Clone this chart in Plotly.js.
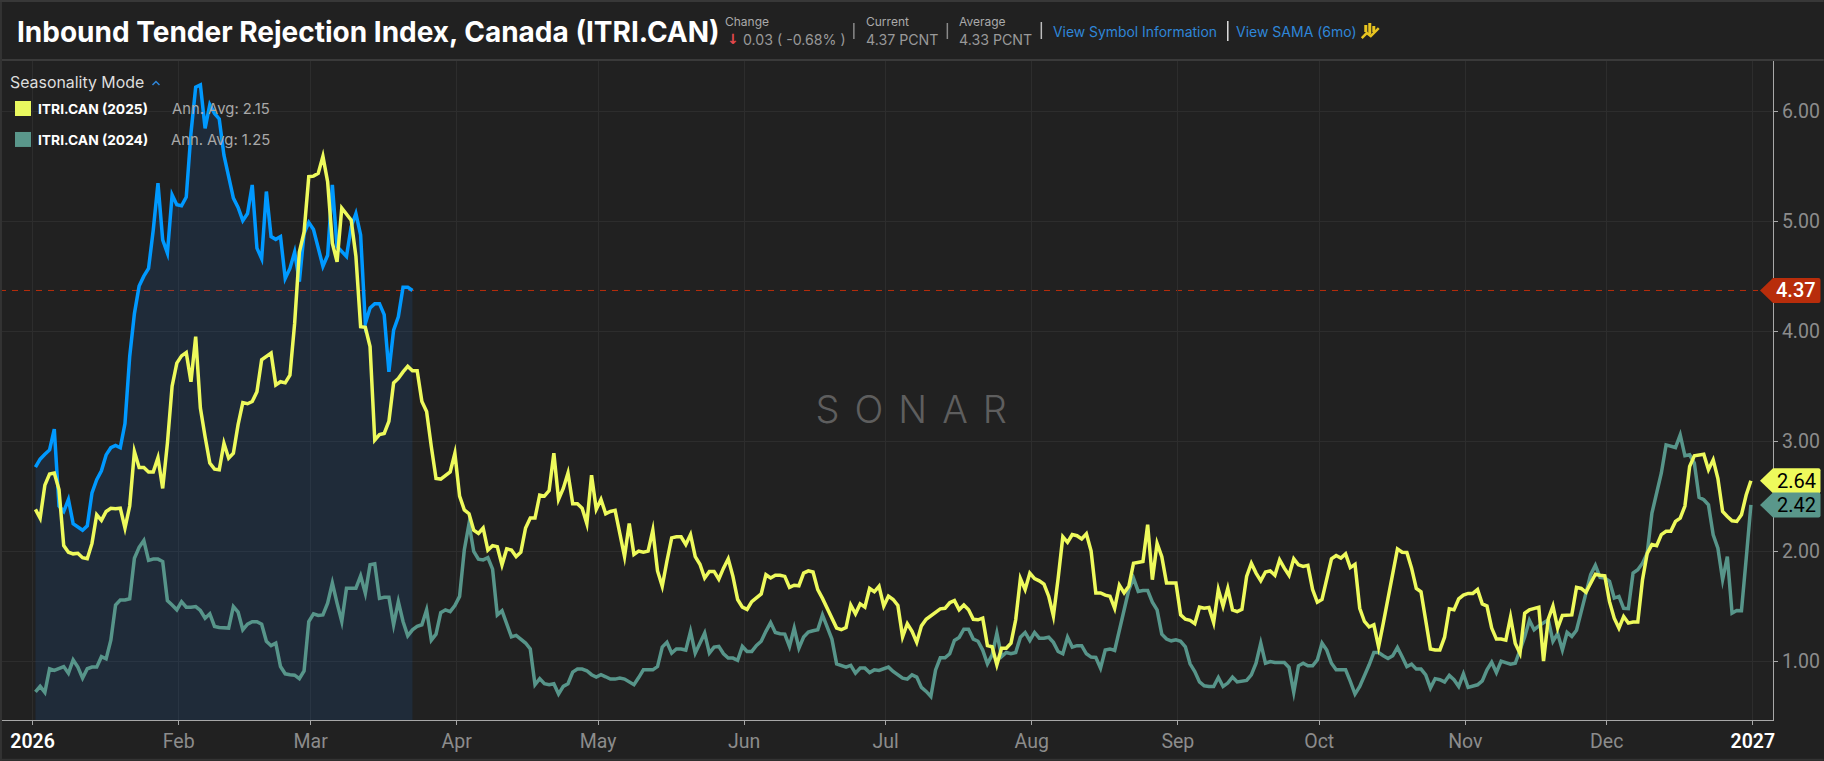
<!DOCTYPE html>
<html><head><meta charset="utf-8">
<script src="https://cdn.plot.ly/plotly-3.0.1.min.js"></script>
<style>
html,body{margin:0;padding:0;background:#212121;overflow:hidden}
#chart{width:1824px;height:761px}
.js-line{stroke-linejoin:miter !important;stroke-miterlimit:6}
</style></head><body><div id="chart"></div>
<script>
const seriesNames = ["ITRI.CAN (2026)","ITRI.CAN (2025)","ITRI.CAN (2024)"];
const values2026 = [
2.763,2.836,2.88,2.92,3.11,2.41,2.36,2.47,2.25,2.22,
2.19,2.23,2.53,2.65,2.73,2.875,2.94,2.96,2.94,3.16,
3.77,4.16,4.41,4.50,4.57,4.92,5.345,4.83,4.71,5.24,
5.15,5.14,5.22,5.80,6.22,6.24,5.845,6.06,5.98,5.93,
5.60,5.405,5.21,5.125,5.005,5.07,5.33,4.755,4.66,5.27,
4.86,4.835,4.86,4.48,4.57,4.72,4.45,4.89,4.99,4.925,
4.77,4.59,4.69,5.33,4.77,4.72,4.68,4.95,5.07,4.875,
4.07,4.21,4.25,4.25,4.15,3.63,4.01,4.13,4.40,4.40,4.37];
const values2025 = [
2.38,2.30,2.60,2.70,2.71,2.56,2.05,1.99,1.975,1.98,
1.94,1.93,2.07,2.33,2.28,2.36,2.39,2.385,2.39,2.21,
2.41,2.905,2.76,2.76,2.72,2.72,2.85,2.57,2.98,3.50,
3.71,3.775,3.805,3.54,3.95,3.30,3.04,2.80,2.745,2.74,
2.98,2.845,2.89,3.15,3.35,3.34,3.36,3.45,3.74,3.775,
3.80,3.51,3.54,3.53,3.60,4.07,4.72,4.90,5.405,5.41,
5.435,5.59,5.36,4.80,4.63,5.12,5.07,5.01,4.68,4.04,
4.035,3.86,3.01,3.06,3.07,3.18,3.53,3.57,3.63,3.68,
3.64,3.64,3.36,3.27,2.95,2.66,2.655,2.69,2.72,2.89,
2.50,2.375,2.34,2.19,2.16,2.21,2.01,2.05,2.04,1.875,
2.02,2.01,1.95,1.99,2.21,2.30,2.30,2.51,2.50,2.55,
2.89,2.47,2.57,2.71,2.43,2.43,2.39,2.25,2.69,2.38,
2.47,2.34,2.36,2.37,2.16,1.95,2.25,1.97,2.00,1.99,
2.00,2.19,1.82,1.68,1.91,2.12,2.13,2.13,2.06,2.15,
1.95,1.88,1.755,1.815,1.815,1.745,1.845,1.93,1.77,1.56,
1.49,1.47,1.54,1.58,1.61,1.785,1.755,1.78,1.78,1.77,
1.67,1.69,1.685,1.80,1.82,1.81,1.65,1.57,1.48,1.39,
1.30,1.285,1.305,1.51,1.43,1.52,1.49,1.66,1.63,1.68,
1.50,1.59,1.56,1.505,1.22,1.34,1.27,1.17,1.32,1.38,
1.41,1.445,1.475,1.48,1.53,1.55,1.466,1.51,1.466,1.38,
1.375,1.39,1.14,1.13,.966,1.117,1.117,1.163,1.375,1.75,
1.65,1.80,1.75,1.73,1.70,1.59,1.41,1.75,2.13,2.08,
2.15,2.14,2.11,2.157,2.00,1.62,1.62,1.60,1.59,1.48,
1.69,1.62,1.68,1.89,1.90,1.905,2.24,1.74,2.07,1.95,
1.71,1.71,1.71,1.42,1.38,1.37,1.34,1.49,1.48,1.487,
1.35,1.65,1.50,1.66,1.466,1.45,1.47,1.77,1.89,1.80,
1.73,1.81,1.82,1.78,1.92,1.845,1.78,1.93,1.875,1.86,
1.87,1.65,1.535,1.56,1.75,1.93,1.96,1.936,1.975,1.85,
1.88,1.48,1.36,1.31,1.33,1.13,1.345,1.57,1.815,2.02,
1.99,1.987,1.845,1.66,1.63,1.375,1.11,1.10,1.10,1.217,
1.475,1.466,1.566,1.60,1.615,1.615,1.65,1.52,1.50,1.30,
1.20,1.20,1.19,1.40,1.16,1.07,1.435,1.466,1.48,1.49,
1.00,1.38,1.50,1.30,1.415,1.415,1.42,1.67,1.66,1.625,
1.71,1.79,1.78,1.775,1.54,1.39,1.30,1.405,1.345,1.355,
1.355,1.74,1.98,2.06,2.05,2.15,2.18,2.18,2.27,2.30,
2.41,2.77,2.867,2.87,2.88,2.74,2.83,2.66,2.36,2.315,
2.276,2.27,2.33,2.51,2.64];
const values2024 = [
.72,.77,.715,.93,.915,.935,.95,.89,1.01,.945,
.845,.93,.945,.945,1.04,1.02,1.19,1.51,1.555,1.555,
1.566,1.935,2.035,2.096,1.915,1.927,1.927,1.905,1.55,1.51,
1.466,1.54,1.49,1.49,1.495,1.46,1.39,1.43,1.315,1.305,
1.30,1.30,1.495,1.445,1.285,1.335,1.357,1.357,1.335,1.18,
1.14,1.163,.95,.884,.875,.872,.84,.911,1.36,1.43,
1.415,1.42,1.527,1.71,1.527,1.36,1.663,1.663,1.663,1.775,
1.617,1.875,1.884,1.57,1.58,1.58,1.33,1.54,1.36,1.23,
1.284,1.315,1.33,1.466,1.19,1.245,1.44,1.466,1.45,1.505,
1.588,2.01,2.25,1.997,1.927,1.92,1.94,1.836,1.42,1.457,
1.34,1.22,1.233,1.194,1.164,1.11,.785,.84,.794,.785,
.794,.70,.77,.794,.90,.927,.927,.912,.876,.854,
.876,.857,.836,.836,.845,.836,.806,.785,.85,.92,
.92,.92,.95,1.127,1.17,1.072,1.11,1.11,1.10,1.27,
1.072,1.163,1.254,1.072,1.127,1.133,1.066,1.027,1.027,1.006,
1.133,1.088,1.088,1.142,1.18,1.27,1.35,1.26,1.248,1.245,
1.133,1.30,1.118,1.218,1.263,1.276,1.285,1.42,1.30,1.20,
.975,.957,.945,.96,.89,.936,.936,.896,.92,.915,
.93,.945,.905,.875,.845,.836,.875,.854,.76,.724,
.678,.92,1.03,1.03,1.066,1.187,1.215,1.29,1.29,1.20,
1.18,1.10,.975,1.057,1.254,1.04,1.078,1.066,1.078,1.217,
1.26,1.187,1.26,1.208,1.208,1.217,1.17,1.087,1.066,1.217,
1.127,1.14,1.14,1.066,1.036,1.033,.936,1.10,1.11,1.096,
1.284,1.48,1.648,1.754,1.633,1.642,1.642,1.536,1.466,1.245,
1.20,1.184,1.193,1.18,1.13,.975,.905,.81,.775,.769,
.769,.85,.769,.80,.854,.81,.82,.824,.875,.98,
1.163,.98,.996,.987,.987,.987,.942,.715,.957,.98,
.957,.957,1.01,1.163,1.10,.98,.92,.92,.92,.815,
.70,.769,.86,.966,1.078,1.078,1.048,1.024,1.048,1.124,
1.04,.95,.972,.927,.927,.875,.754,.84,.83,.81,
.87,.83,.769,.884,.76,.769,.784,.82,.92,.99,
.896,1.0,.99,.972,.98,1.10,1.22,1.37,1.284,1.32,
1.345,1.375,1.18,1.25,1.10,1.26,1.224,1.28,1.45,1.62,
1.785,1.87,1.76,1.755,1.725,1.573,1.588,1.48,1.476,1.80,
1.83,1.89,1.98,2.345,2.527,2.71,2.966,2.955,2.942,3.057,
2.867,2.876,2.80,2.488,2.467,2.42,2.148,2.027,1.74,1.95,
1.436,1.46,1.458,1.93,2.42];
const monthTickDates = ["2026-01-01","2026-02-01","2026-03-01","2026-04-01","2026-05-01","2026-06-01","2026-07-01","2026-08-01","2026-09-01","2026-10-01","2026-11-01","2026-12-01","2027-01-01"];
const monthTickLabels = ['<span style="color:#ffffff;font-weight:600">2026</span>',"Feb","Mar","Apr","May","Jun","Jul","Aug","Sep","Oct","Nov","Dec",'<span style="color:#ffffff;font-weight:600">2027</span>'];
const yTicks = [1,2,3,4,5,6];
const tagValues = [4.37,2.64,2.42];

const W=1824,H=761,L=0,R=1773.3,T=60,B=720.3;
const BLUE="#0099ff",YEL="#eefa5c",GRN="#57958a",RED="#b82d0b";
const base=Date.UTC(2026,0,1);
const dateOf=d=>new Date(base+d*864e5).toISOString();
const xOf=v=>v.map((_,i)=>dateOf(i+0.6));
const px=x=>(x-L)/(R-L), py=y=>1-(y-T)/(B-T);

const traces=[
 {x:xOf(values2026),y:values2026,name:seriesNames[0],mode:"lines",line:{color:BLUE,width:3.5},fill:"tozeroy",fillcolor:"rgba(16,116,233,0.12)"},
 {x:xOf(values2024),y:values2024,name:seriesNames[2],mode:"lines",line:{color:GRN,width:3.5}},
 {x:xOf(values2025),y:values2025,name:seriesNames[1],mode:"lines",line:{color:YEL,width:3.5}}
];

const FONT="Inter, sans-serif", NUM="Roboto, sans-serif";
function note(text,x,y,size,color,opt){
 return Object.assign({text,xref:"paper",yref:"paper",x:px(x),y:py(y),xanchor:"left",yanchor:"middle",showarrow:false,borderpad:0,
  font:{family:FONT,size,color}},opt||{});
}
function ann(){return [
 note("Inbound Tender Rejection Index, Canada (ITRI.CAN)",16,31.5,28,"#ffffff",{font:{family:FONT,size:28,color:"#ffffff",weight:700}}),
 note("Change",724,21,12,"#aaaaaa"),
 note("↓",726,39,14,"#e5484d",{font:{family:"DejaVu Sans",size:14,color:"#e5484d",weight:700}}),
 note("0.03 ( -0.68% )",742,39,14.2,"#999999"),
 note("Current",865,21,12,"#aaaaaa"),
 note("4.37 PCNT",865,39,14.2,"#999999"),
 note("Average",958,21,12,"#aaaaaa"),
 note("4.33 PCNT",958,39,14.2,"#999999"),
 note("View Symbol Information",1052,32,13.9,"#2f86d8"),
 note("View SAMA (6mo)",1235,31,14,"#2f86d8"),
 note("Seasonality Mode",9,83,15.9,"#dddddd"),
 note(seriesNames[1],37,109.5,13.8,"#ffffff",{font:{family:FONT,size:13.8,color:"#ffffff",weight:700}}),
 note(seriesNames[2],37,140.5,13.8,"#ffffff",{font:{family:FONT,size:13.8,color:"#ffffff",weight:700}}),
 note("Ann. Avg: 2.15",271,109.5,14.8,"#a8a8a8",{xanchor:"right"}),
 note("Ann. Avg: 1.25",271,140.5,14.8,"#a8a8a8",{xanchor:"right"}),
 note("SONAR",919,409,38,"#5e5e5e",{xanchor:"center",font:{family:FONT,size:38,color:"#5e5e5e",weight:300}}),
 ...tagValues.map((v,i)=>({text:v.toFixed(2),xref:"paper",yref:"y",x:1,y:v,xanchor:"right",yanchor:"middle",xshift:44,showarrow:false,borderpad:0,
   font:{family:NUM,size:20,color:i===0?"#ffffff":"#000000",weight:i===0?500:400}}))
];}

function tag(v,color){return {type:"path",xref:"paper",yref:"y",xsizemode:"pixel",ysizemode:"pixel",xanchor:1,yanchor:v,layer:"above",
  path:"M -13 0 L 0 12.5 L 45.5 12.5 Q 47.5 12.5 47.5 10.5 L 47.5 -10.5 Q 47.5 -12.5 45.5 -12.5 L 0 -12.5 Z",fillcolor:color,line:{width:0}};}
function seg(x0,y0,x1,y1,color,w){return {type:"line",xref:"paper",yref:"paper",x0:px(x0),y0:py(y0),x1:px(x1),y1:py(y1),line:{color,width:w||1},layer:"above"};}
function box(x0,y0,x1,y1,color){return {type:"rect",xref:"paper",yref:"paper",x0:px(x0),y0:py(y0),x1:px(x1),y1:py(y1),fillcolor:color,line:{width:0},layer:"above"};}
function poly(pts,color,w){return {type:"path",xref:"paper",yref:"paper",path:pts.map((p,i)=>(i?"L ":"M ")+px(p[0])+" "+py(p[1])).join(" "),line:{color,width:w},fillcolor:"rgba(0,0,0,0)",layer:"above"};}

const shapes=[
 {type:"line",xref:"paper",yref:"y",x0:0,x1:px(1760),y0:tagValues[0],y1:tagValues[0],line:{color:RED,width:1,dash:"6px,6px"},layer:"below"},
 seg(0,60,1824,60,"#3a3a3a",2),
 seg(1,0,1,761,"#333333",2),
 seg(0,1,1824,1,"#383838",2),
 seg(0,760,1824,760,"#333333",2),
 seg(854,23,854,39,"#8a8a8a",1.5),
 seg(947.5,23,947.5,39,"#8a8a8a",1.5),
 seg(1041.5,22,1041.5,39,"#bdbdbd",1.5),
 seg(1228,21,1228,41,"#e0e0e0",1.5),
 box(15,101,31,116,"#e9f85f"),
 box(15,132,31,147,"#5a978b"),
 poly([[152.5,85],[156,81.5],[159.5,85]],"#2f86d8",1.5),
 poly([[1362,38],[1367,33],[1371,36],[1379,28]],"#e8c420",2.5),
 seg(1366,25,1366,32,"#e8c420",3),
 seg(1370,23,1370,34,"#e8c420",3),
 seg(1374,26,1374,32,"#e8c420",3),
 tag(tagValues[0],RED),tag(tagValues[1],"#eefa5c"),tag(tagValues[2],"#5a978b")
];

const layout={
 width:W,height:H,paper_bgcolor:"#212121",plot_bgcolor:"#212121",showlegend:false,hovermode:false,
 margin:{l:L,r:W-R,t:T,b:H-B,pad:0},
 xaxis:{type:"date",range:[dateOf(-6.92),dateOf(369.29)],tickmode:"array",tickvals:monthTickDates,ticktext:monthTickLabels,
  showgrid:true,gridcolor:"#2d2d2d",gridwidth:1,zeroline:false,showline:true,linecolor:"#a8a8a8",linewidth:1,
  ticks:"outside",ticklen:4,tickcolor:"#a8a8a8",tickfont:{family:NUM,size:19.5,color:"#8c8c8c"}},
 yaxis:{side:"right",range:[0.464,6.466],tickmode:"array",tickvals:yTicks,tickformat:".2f",
  showgrid:true,gridcolor:"#2d2d2d",gridwidth:1,zeroline:false,showline:true,linecolor:"#a8a8a8",linewidth:1,
  ticks:"outside",ticklen:4,tickcolor:"#a8a8a8",tickfont:{family:NUM,size:19.5,color:"#8c8c8c"}},
 annotations:ann(),shapes
};
Plotly.newPlot("chart",traces,layout,{displayModeBar:false,staticPlot:true}).then(()=>{
 document.querySelectorAll(".annotation-text").forEach(t=>{ if(t.textContent==="SONAR"){t.style.letterSpacing="15px";}});
});
</script></body></html>
